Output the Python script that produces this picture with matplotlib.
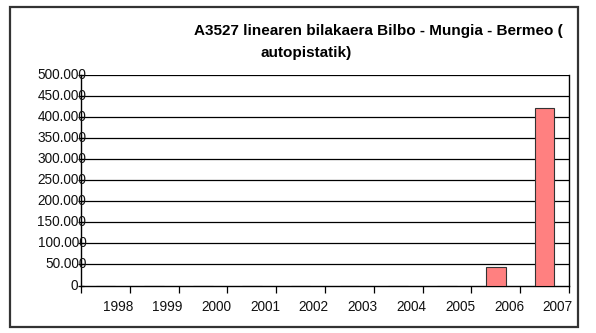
import numpy as np
import matplotlib
matplotlib.use('Agg')
import matplotlib.pyplot as plt
from matplotlib.patches import Rectangle
from matplotlib.ticker import NullFormatter, FixedLocator

plt.rcParams['font.family'] = ['Liberation Sans', 'DejaVu Sans']

# A3527 line, yearly figures
years = ['1998', '1999', '2000', '2001', '2002', '2003', '2004', '2005', '2006', '2007']
values = [0, 0, 0, 0, 0, 0, 0, 0, 44500, 420000]
y_ticks = [0, 50000, 100000, 150000, 200000, 250000, 300000, 350000, 400000, 450000, 500000]
y_labels = ['0', '50.000', '100.000', '150.000', '200.000', '250.000',
            '300.000', '350.000', '400.000', '450.000', '500.000']

fig = plt.figure(figsize=(5.96, 3.33), dpi=100)

# outer chart frame
fig.patches.append(Rectangle((10 / 596, 1 - 327 / 333), 568 / 596, 320 / 333,
                             transform=fig.transFigure, fill=False,
                             edgecolor='#333333', linewidth=1.6))

ax = fig.add_axes([81 / 596, 1 - 285.5 / 333, 488 / 596, (285.5 - 74.7) / 333])

x = np.arange(len(years))
ax.bar(x, values, width=0.4, color='#ff8080', edgecolor='#333333', linewidth=0.8, zorder=3)

ax.set_xlim(-0.5, len(years) - 0.5)
ax.set_ylim(0, 500000)

# horizontal gridlines
for v in y_ticks[1:]:
    ax.axhline(v, color='black', linewidth=0.9, zorder=1)

for side in ['left', 'bottom', 'right']:
    ax.spines[side].set_color('black')
    ax.spines[side].set_linewidth(1.0)
ax.spines['top'].set_visible(False)

# tick marks on category boundaries, labels drawn a bit to the right
ax.xaxis.set_major_locator(FixedLocator(np.arange(-0.5, len(years), 1.0)))
ax.xaxis.set_major_formatter(NullFormatter())
ax.tick_params(axis='x', which='major', length=5, width=0.9, direction='out')
for i, lab in enumerate(years):
    ax.text(i + 0.27, -0.1, lab, transform=ax.get_xaxis_transform(),
            ha='center', va='center', fontsize=9.8, color='#111111')

ax.yaxis.set_major_locator(FixedLocator(y_ticks))
ax.yaxis.set_major_formatter(NullFormatter())
ax.tick_params(axis='y', which='major', length=5, width=0.9, direction='inout')
for v, lab in zip(y_ticks, y_labels):
    xr = -0.006 if v == 0 else 0.011
    ax.text(xr, v, lab, transform=ax.get_yaxis_transform(),
            ha='right', va='center', fontsize=9.8, color='#111111')

fig.text(378 / 596, 1 - 31 / 333, 'A3527 linearen bilakaera Bilbo - Mungia - Bermeo (',
         ha='center', va='center', fontsize=11, fontweight='bold')
fig.text(306 / 596, 1 - 52.5 / 333, 'autopistatik)',
         ha='center', va='center', fontsize=11, fontweight='bold')

fig.savefig('out.png', dpi=100)
